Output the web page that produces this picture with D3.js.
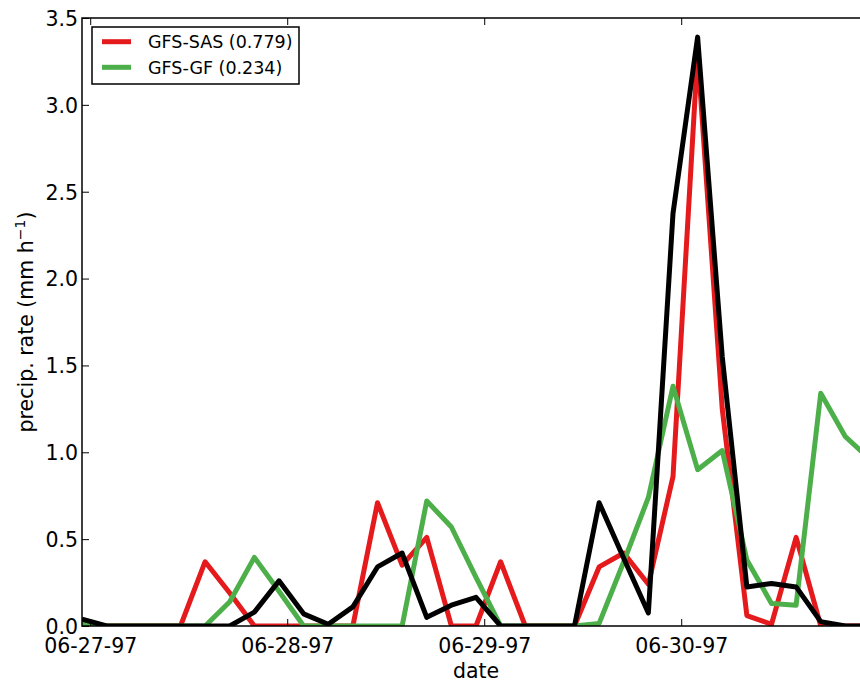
<!DOCTYPE html>
<html lang="en">
<head>
<meta charset="UTF-8">
<script src="https://d3js.org/d3.v7.min.js"></script>
<style>
    body { margin: 0; background: #fff; }
    text { font-family: "DejaVu Sans", sans-serif; fill: #000; }
</style>
</head>
<body>
<script>
// 3-hourly samples, first one at 06-26-97 23:00
var startTime = Date.UTC(1997, 5, 26, 23);
var stepHours = 3;

var gfsSas = [0, 0, 0, 0, 0, 0.37, 0.19, 0, 0, 0, 0, 0, 0.71, 0.35, 0.51, 0, 0,
              0.37, 0, 0, 0, 0.34, 0.42, 0.24, 0.86, 3.3, 1.25, 0.06, 0.01, 0.51, 0, 0, 0];
var gfsGf  = [0.01, 0, 0, 0, 0, 0, 0.14, 0.395, 0.2, 0, 0, 0, 0, 0, 0.72, 0.57, 0.28,
              0, 0, 0, 0, 0.015, 0.37, 0.74, 1.38, 0.9, 1.01, 0.38, 0.13, 0.12, 1.34, 1.09, 0.96];
var obs    = [0.04, 0, 0, 0, 0, 0, 0, 0.08, 0.26, 0.07, 0.01, 0.11, 0.34, 0.42, 0.05, 0.12, 0.165,
              0, 0, 0, 0, 0.71, 0.39, 0.075, 2.375, 3.39, 1.55, 0.225, 0.245, 0.225, 0.025, 0, 0];

var seriesNames  = ["GFS-SAS (0.779)", "GFS-GF (0.234)"];
var seriesColors = ["#e41a1c", "#4daf4a"];
var yTicks = [0, 0.5, 1, 1.5, 2, 2.5, 3, 3.5];
var xTicks = [Date.UTC(1997, 5, 27), Date.UTC(1997, 5, 28), Date.UTC(1997, 5, 29), Date.UTC(1997, 5, 30)];

var W = 860, H = 684;
var pL = 82, pR = 870, pT = 18, pB = 626;

var svg = d3.select("body").append("svg")
    .attr("width", W).attr("height", H);

var x = d3.scaleUtc()
    .domain([new Date(startTime), new Date(Date.UTC(1997, 5, 30, 23))])
    .range([pL, pR]);
var y = d3.scaleLinear().domain([0, 3.5]).range([pB, pT]);

function toPoints(arr) {
    return arr.map(function (v, i) {
        return {t: new Date(startTime + i * stepHours * 3600e3), v: v};
    });
}

svg.append("clipPath").attr("id", "plotclip")
    .append("rect").attr("x", pL).attr("y", pT)
    .attr("width", pR - pL).attr("height", pB - pT);

var line = d3.line().x(function (d) { return x(d.t); }).y(function (d) { return y(d.v); });

var plot = svg.append("g").attr("clip-path", "url(#plotclip)");
[[gfsSas, seriesColors[0]], [gfsGf, seriesColors[1]], [obs, "#000"]].forEach(function (s) {
    plot.append("path")
        .datum(toPoints(s[0]))
        .attr("d", line)
        .attr("fill", "none")
        .attr("stroke", s[1])
        .attr("stroke-width", 5)
        .attr("stroke-linejoin", "round");
});

// axes, ticks pointing inward like the matplotlib classic style
var fmt = d3.utcFormat("%m-%d-%y");
var xAxis = svg.append("g").attr("transform", "translate(0," + pB + ")")
    .call(d3.axisBottom(x).tickValues(xTicks.map(function (t) { return new Date(t); }))
        .tickFormat(fmt).tickSizeInner(-7).tickSizeOuter(0).tickPadding(12));
var xAxisTop = svg.append("g").attr("transform", "translate(0," + pT + ")")
    .call(d3.axisTop(x).tickValues(xTicks.map(function (t) { return new Date(t); }))
        .tickFormat("").tickSizeInner(-7).tickSizeOuter(0));
var yAxis = svg.append("g").attr("transform", "translate(" + pL + ",0)")
    .call(d3.axisLeft(y).tickValues(yTicks).tickFormat(d3.format(".1f"))
        .tickSizeInner(-7).tickSizeOuter(0).tickPadding(5));

[xAxis, xAxisTop, yAxis].forEach(function (a) {
    a.select(".domain").remove();
    a.selectAll(".tick line").attr("stroke", "#000").attr("stroke-width", 1);
    a.selectAll(".tick text").attr("font-size", 20.5).attr("font-family", "DejaVu Sans").attr("fill", "#000");
});
yAxis.selectAll(".tick text").attr("dy", "0.36em").attr("x", -4);

// frame
svg.append("rect")
    .attr("x", pL).attr("y", pT)
    .attr("width", pR - pL).attr("height", pB - pT)
    .attr("fill", "none").attr("stroke", "#000").attr("stroke-width", 1.5);

// axis labels
svg.append("text")
    .attr("x", (pL + pR) / 2).attr("y", 678)
    .attr("text-anchor", "middle").attr("font-size", 20.5)
    .text("date");

var yl = svg.append("text")
    .attr("transform", "translate(33," + ((pT + pB) / 2) + ") rotate(-90)")
    .attr("text-anchor", "middle").attr("font-size", 20.5);
yl.append("tspan").text("precip. rate (mm h");
yl.append("tspan").attr("font-size", 14).attr("dy", -8).text("\u22121");
yl.append("tspan").attr("dy", 8).text(")");

// legend
var lg = svg.append("g");
lg.append("rect")
    .attr("x", 92).attr("y", 27).attr("width", 207).attr("height", 57)
    .attr("fill", "#fff").attr("stroke", "#000").attr("stroke-width", 1.5);
seriesNames.forEach(function (name, i) {
    var ly = 41.7 + i * 25.6;
    lg.append("line")
        .attr("x1", 102).attr("x2", 131).attr("y1", ly).attr("y2", ly)
        .attr("stroke", seriesColors[i]).attr("stroke-width", 5);
    lg.append("text")
        .attr("x", 148).attr("y", ly).attr("dy", "0.36em")
        .attr("font-size", 17.5).text(name);
});
</script>
</body>
</html>
